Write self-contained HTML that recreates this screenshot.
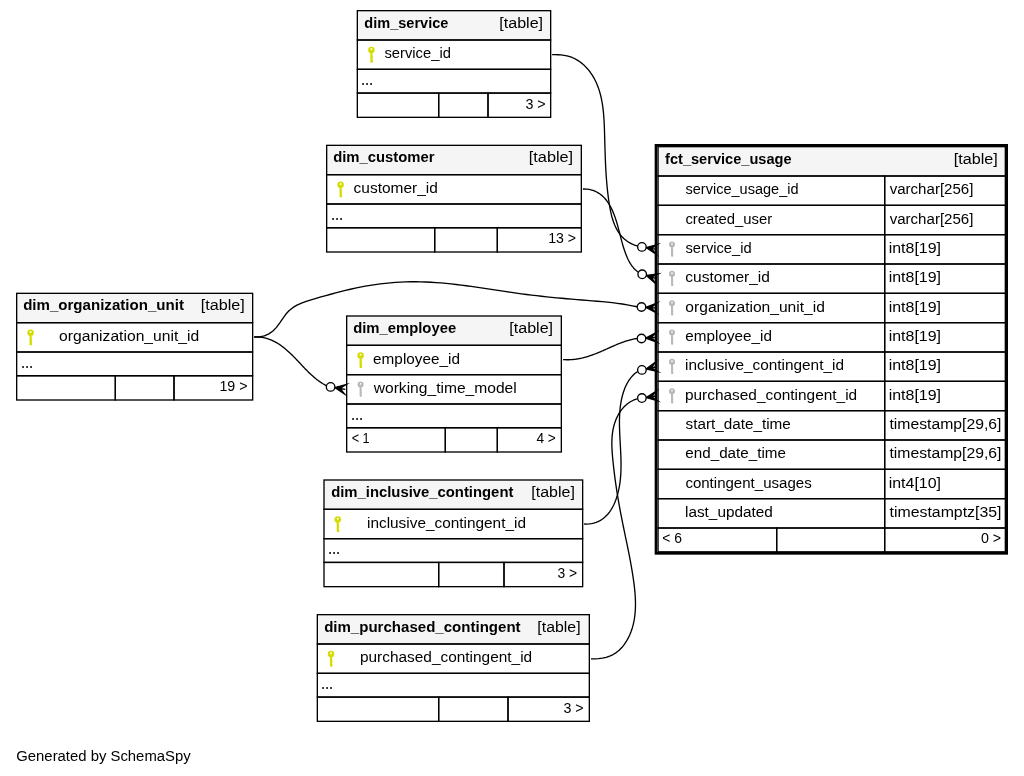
<!DOCTYPE html>
<html lang="en"><head><meta charset="utf-8"><title>fct_service_usage relationships</title>
<style>html,body{margin:0;padding:0;background:#fff;}svg{display:block;will-change:transform;}text{white-space:pre;}</style></head>
<body>
<svg width="1024" height="776" viewBox="0 0 1024 776" font-family='"Liberation Sans", sans-serif' fill="#000">
<rect x="0" y="0" width="1024" height="776" fill="#fff"/>
<rect x="356.670" y="10.000" width="194.660" height="108.000" fill="#fff"/>
<rect x="357.337" y="10.667" width="193.327" height="29.333" fill="#f5f5f5" stroke="#000" stroke-width="1.3333"/>
<rect x="357.337" y="40.000" width="193.327" height="29.333" fill="none" stroke="#000" stroke-width="1.3333"/>
<rect x="357.337" y="69.333" width="193.327" height="23.750" fill="none" stroke="#000" stroke-width="1.3333"/>
<rect x="357.337" y="93.083" width="81.333" height="24.250" fill="none" stroke="#000" stroke-width="1.3333"/>
<rect x="438.670" y="93.083" width="49.330" height="24.250" fill="none" stroke="#000" stroke-width="1.3333"/>
<rect x="488.000" y="93.083" width="62.663" height="24.250" fill="none" stroke="#000" stroke-width="1.3333"/>
<path fill="#d4dc00" fill-rule="evenodd" d="M368.15,50.10 a3.25,3.25 0 1,0 6.50,0 a3.25,3.25 0 1,0 -6.50,0 Z M370.45,49.30 a0.95,0.95 0 1,0 1.90,0 a0.95,0.95 0 1,0 -1.90,0 Z"/>
<path fill="#d4dc00" d="M370.32,52.55 L372.48,52.55 L372.48,55.50 l0.45,0.25 l0,0.9 l-0.45,0.25 l0,0.7 l0.45,0.25 l0,0.9 l-0.45,0.25 l0,1.0 l0.45,0.25 L372.93,62.30 L371.40,62.90 L370.32,62.00 Z"/>
<rect x="326.000" y="144.670" width="256.000" height="108.000" fill="#fff"/>
<rect x="326.667" y="145.337" width="254.667" height="29.333" fill="#f5f5f5" stroke="#000" stroke-width="1.3333"/>
<rect x="326.667" y="174.670" width="254.667" height="29.333" fill="none" stroke="#000" stroke-width="1.3333"/>
<rect x="326.667" y="204.003" width="254.667" height="23.750" fill="none" stroke="#000" stroke-width="1.3333"/>
<rect x="326.667" y="227.753" width="108.003" height="24.250" fill="none" stroke="#000" stroke-width="1.3333"/>
<rect x="434.670" y="227.753" width="62.660" height="24.250" fill="none" stroke="#000" stroke-width="1.3333"/>
<rect x="497.330" y="227.753" width="84.003" height="24.250" fill="none" stroke="#000" stroke-width="1.3333"/>
<path fill="#d4dc00" fill-rule="evenodd" d="M337.35,184.77 a3.25,3.25 0 1,0 6.50,0 a3.25,3.25 0 1,0 -6.50,0 Z M339.65,183.97 a0.95,0.95 0 1,0 1.90,0 a0.95,0.95 0 1,0 -1.90,0 Z"/>
<path fill="#d4dc00" d="M339.52,187.22 L341.68,187.22 L341.68,190.17 l0.45,0.25 l0,0.9 l-0.45,0.25 l0,0.7 l0.45,0.25 l0,0.9 l-0.45,0.25 l0,1.0 l0.45,0.25 L342.13,196.97 L340.60,197.57 L339.52,196.67 Z"/>
<rect x="16.000" y="292.670" width="237.330" height="108.000" fill="#fff"/>
<rect x="16.667" y="293.337" width="235.997" height="29.333" fill="#f5f5f5" stroke="#000" stroke-width="1.3333"/>
<rect x="16.667" y="322.670" width="235.997" height="29.333" fill="none" stroke="#000" stroke-width="1.3333"/>
<rect x="16.667" y="352.003" width="235.997" height="23.750" fill="none" stroke="#000" stroke-width="1.3333"/>
<rect x="16.667" y="375.753" width="98.663" height="24.250" fill="none" stroke="#000" stroke-width="1.3333"/>
<rect x="115.330" y="375.753" width="58.670" height="24.250" fill="none" stroke="#000" stroke-width="1.3333"/>
<rect x="174.000" y="375.753" width="78.663" height="24.250" fill="none" stroke="#000" stroke-width="1.3333"/>
<path fill="#d4dc00" fill-rule="evenodd" d="M27.35,332.77 a3.25,3.25 0 1,0 6.50,0 a3.25,3.25 0 1,0 -6.50,0 Z M29.65,331.97 a0.95,0.95 0 1,0 1.90,0 a0.95,0.95 0 1,0 -1.90,0 Z"/>
<path fill="#d4dc00" d="M29.52,335.22 L31.68,335.22 L31.68,338.17 l0.45,0.25 l0,0.9 l-0.45,0.25 l0,0.7 l0.45,0.25 l0,0.9 l-0.45,0.25 l0,1.0 l0.45,0.25 L32.13,344.97 L30.60,345.57 L29.52,344.67 Z"/>
<rect x="346.000" y="315.330" width="216.000" height="137.333" fill="#fff"/>
<rect x="346.667" y="315.997" width="214.667" height="29.333" fill="#f5f5f5" stroke="#000" stroke-width="1.3333"/>
<rect x="346.667" y="345.330" width="214.667" height="29.333" fill="none" stroke="#000" stroke-width="1.3333"/>
<rect x="346.667" y="374.663" width="214.667" height="29.333" fill="none" stroke="#000" stroke-width="1.3333"/>
<rect x="346.667" y="403.997" width="214.667" height="23.750" fill="none" stroke="#000" stroke-width="1.3333"/>
<rect x="346.667" y="427.747" width="98.663" height="24.250" fill="none" stroke="#000" stroke-width="1.3333"/>
<rect x="445.330" y="427.747" width="52.000" height="24.250" fill="none" stroke="#000" stroke-width="1.3333"/>
<rect x="497.330" y="427.747" width="64.003" height="24.250" fill="none" stroke="#000" stroke-width="1.3333"/>
<path fill="#d4dc00" fill-rule="evenodd" d="M357.35,355.43 a3.25,3.25 0 1,0 6.50,0 a3.25,3.25 0 1,0 -6.50,0 Z M359.65,354.63 a0.95,0.95 0 1,0 1.90,0 a0.95,0.95 0 1,0 -1.90,0 Z"/>
<path fill="#d4dc00" d="M359.52,357.88 L361.68,357.88 L361.68,360.83 l0.45,0.25 l0,0.9 l-0.45,0.25 l0,0.7 l0.45,0.25 l0,0.9 l-0.45,0.25 l0,1.0 l0.45,0.25 L362.13,367.63 L360.60,368.23 L359.52,367.33 Z"/>
<path fill="#b9b9b9" fill-rule="evenodd" d="M357.55,384.56 a3.05,3.05 0 1,0 6.10,0 a3.05,3.05 0 1,0 -6.10,0 Z M359.75,383.86 a0.85,0.85 0 1,0 1.70,0 a0.85,0.85 0 1,0 -1.70,0 Z"/>
<path fill="#b9b9b9" d="M359.62,386.81 L361.58,386.81 L361.58,389.96 l0.35,0.25 l0,0.9 l-0.35,0.25 l0,0.7 l0.35,0.25 l0,0.9 l-0.35,0.25 l0,1.0 l0.35,0.25 L361.93,396.36 L360.60,396.96 L359.62,396.06 Z"/>
<rect x="323.330" y="479.330" width="260.000" height="108.000" fill="#fff"/>
<rect x="323.997" y="479.997" width="258.667" height="29.333" fill="#f5f5f5" stroke="#000" stroke-width="1.3333"/>
<rect x="323.997" y="509.330" width="258.667" height="29.333" fill="none" stroke="#000" stroke-width="1.3333"/>
<rect x="323.997" y="538.663" width="258.667" height="23.750" fill="none" stroke="#000" stroke-width="1.3333"/>
<rect x="323.997" y="562.413" width="114.673" height="24.250" fill="none" stroke="#000" stroke-width="1.3333"/>
<rect x="438.670" y="562.413" width="65.330" height="24.250" fill="none" stroke="#000" stroke-width="1.3333"/>
<rect x="504.000" y="562.413" width="78.663" height="24.250" fill="none" stroke="#000" stroke-width="1.3333"/>
<path fill="#d4dc00" fill-rule="evenodd" d="M334.50,519.43 a3.25,3.25 0 1,0 6.50,0 a3.25,3.25 0 1,0 -6.50,0 Z M336.80,518.63 a0.95,0.95 0 1,0 1.90,0 a0.95,0.95 0 1,0 -1.90,0 Z"/>
<path fill="#d4dc00" d="M336.67,521.88 L338.83,521.88 L338.83,524.83 l0.45,0.25 l0,0.9 l-0.45,0.25 l0,0.7 l0.45,0.25 l0,0.9 l-0.45,0.25 l0,1.0 l0.45,0.25 L339.28,531.63 L337.75,532.23 L336.67,531.33 Z"/>
<rect x="316.670" y="614.000" width="273.330" height="108.000" fill="#fff"/>
<rect x="317.337" y="614.667" width="271.997" height="29.333" fill="#f5f5f5" stroke="#000" stroke-width="1.3333"/>
<rect x="317.337" y="644.000" width="271.997" height="29.333" fill="none" stroke="#000" stroke-width="1.3333"/>
<rect x="317.337" y="673.333" width="271.997" height="23.750" fill="none" stroke="#000" stroke-width="1.3333"/>
<rect x="317.337" y="697.083" width="121.333" height="24.250" fill="none" stroke="#000" stroke-width="1.3333"/>
<rect x="438.670" y="697.083" width="69.330" height="24.250" fill="none" stroke="#000" stroke-width="1.3333"/>
<rect x="508.000" y="697.083" width="81.333" height="24.250" fill="none" stroke="#000" stroke-width="1.3333"/>
<path fill="#d4dc00" fill-rule="evenodd" d="M327.75,654.10 a3.25,3.25 0 1,0 6.50,0 a3.25,3.25 0 1,0 -6.50,0 Z M330.05,653.30 a0.95,0.95 0 1,0 1.90,0 a0.95,0.95 0 1,0 -1.90,0 Z"/>
<path fill="#d4dc00" d="M329.92,656.55 L332.08,656.55 L332.08,659.50 l0.45,0.25 l0,0.9 l-0.45,0.25 l0,0.7 l0.45,0.25 l0,0.9 l-0.45,0.25 l0,1.0 l0.45,0.25 L332.53,666.30 L331.00,666.90 L329.92,666.00 Z"/>
<rect x="654.670" y="144.000" width="353.330" height="410.670" fill="#fff"/>
<rect x="658.070" y="146.670" width="347.260" height="29.330" fill="#f5f5f5" stroke="#000" stroke-width="1.3333"/>
<rect x="658.070" y="176.000" width="226.600" height="29.333" fill="none" stroke="#000" stroke-width="1.3333"/>
<rect x="884.670" y="176.000" width="120.660" height="29.333" fill="none" stroke="#000" stroke-width="1.3333"/>
<rect x="658.070" y="205.333" width="226.600" height="29.333" fill="none" stroke="#000" stroke-width="1.3333"/>
<rect x="884.670" y="205.333" width="120.660" height="29.333" fill="none" stroke="#000" stroke-width="1.3333"/>
<rect x="658.070" y="234.667" width="226.600" height="29.333" fill="none" stroke="#000" stroke-width="1.3333"/>
<rect x="884.670" y="234.667" width="120.660" height="29.333" fill="none" stroke="#000" stroke-width="1.3333"/>
<rect x="658.070" y="264.000" width="226.600" height="29.333" fill="none" stroke="#000" stroke-width="1.3333"/>
<rect x="884.670" y="264.000" width="120.660" height="29.333" fill="none" stroke="#000" stroke-width="1.3333"/>
<rect x="658.070" y="293.333" width="226.600" height="29.333" fill="none" stroke="#000" stroke-width="1.3333"/>
<rect x="884.670" y="293.333" width="120.660" height="29.333" fill="none" stroke="#000" stroke-width="1.3333"/>
<rect x="658.070" y="322.667" width="226.600" height="29.333" fill="none" stroke="#000" stroke-width="1.3333"/>
<rect x="884.670" y="322.667" width="120.660" height="29.333" fill="none" stroke="#000" stroke-width="1.3333"/>
<rect x="658.070" y="352.000" width="226.600" height="29.333" fill="none" stroke="#000" stroke-width="1.3333"/>
<rect x="884.670" y="352.000" width="120.660" height="29.333" fill="none" stroke="#000" stroke-width="1.3333"/>
<rect x="658.070" y="381.333" width="226.600" height="29.333" fill="none" stroke="#000" stroke-width="1.3333"/>
<rect x="884.670" y="381.333" width="120.660" height="29.333" fill="none" stroke="#000" stroke-width="1.3333"/>
<rect x="658.070" y="410.667" width="226.600" height="29.333" fill="none" stroke="#000" stroke-width="1.3333"/>
<rect x="884.670" y="410.667" width="120.660" height="29.333" fill="none" stroke="#000" stroke-width="1.3333"/>
<rect x="658.070" y="440.000" width="226.600" height="29.333" fill="none" stroke="#000" stroke-width="1.3333"/>
<rect x="884.670" y="440.000" width="120.660" height="29.333" fill="none" stroke="#000" stroke-width="1.3333"/>
<rect x="658.070" y="469.333" width="226.600" height="29.333" fill="none" stroke="#000" stroke-width="1.3333"/>
<rect x="884.670" y="469.333" width="120.660" height="29.333" fill="none" stroke="#000" stroke-width="1.3333"/>
<rect x="658.070" y="498.667" width="226.600" height="29.333" fill="none" stroke="#000" stroke-width="1.3333"/>
<rect x="884.670" y="498.667" width="120.660" height="29.333" fill="none" stroke="#000" stroke-width="1.3333"/>
<rect x="658.070" y="528.000" width="118.600" height="23.800" fill="none" stroke="#000" stroke-width="1.3333"/>
<rect x="776.670" y="528.000" width="108.000" height="23.800" fill="none" stroke="#000" stroke-width="1.3333"/>
<rect x="884.670" y="528.000" width="120.660" height="23.800" fill="none" stroke="#000" stroke-width="1.3333"/>
<rect x="656.003" y="145.333" width="350.663" height="408.003" fill="none" stroke="#000" stroke-width="2.6666"/>
<path fill="#b9b9b9" fill-rule="evenodd" d="M668.95,244.57 a3.05,3.05 0 1,0 6.10,0 a3.05,3.05 0 1,0 -6.10,0 Z M671.15,243.87 a0.85,0.85 0 1,0 1.70,0 a0.85,0.85 0 1,0 -1.70,0 Z"/>
<path fill="#b9b9b9" d="M671.02,246.82 L672.98,246.82 L672.98,249.97 l0.35,0.25 l0,0.9 l-0.35,0.25 l0,0.7 l0.35,0.25 l0,0.9 l-0.35,0.25 l0,1.0 l0.35,0.25 L673.33,256.37 L672.00,256.97 L671.02,256.07 Z"/>
<path fill="#b9b9b9" fill-rule="evenodd" d="M668.95,273.90 a3.05,3.05 0 1,0 6.10,0 a3.05,3.05 0 1,0 -6.10,0 Z M671.15,273.20 a0.85,0.85 0 1,0 1.70,0 a0.85,0.85 0 1,0 -1.70,0 Z"/>
<path fill="#b9b9b9" d="M671.02,276.15 L672.98,276.15 L672.98,279.30 l0.35,0.25 l0,0.9 l-0.35,0.25 l0,0.7 l0.35,0.25 l0,0.9 l-0.35,0.25 l0,1.0 l0.35,0.25 L673.33,285.70 L672.00,286.30 L671.02,285.40 Z"/>
<path fill="#b9b9b9" fill-rule="evenodd" d="M668.95,303.23 a3.05,3.05 0 1,0 6.10,0 a3.05,3.05 0 1,0 -6.10,0 Z M671.15,302.53 a0.85,0.85 0 1,0 1.70,0 a0.85,0.85 0 1,0 -1.70,0 Z"/>
<path fill="#b9b9b9" d="M671.02,305.48 L672.98,305.48 L672.98,308.63 l0.35,0.25 l0,0.9 l-0.35,0.25 l0,0.7 l0.35,0.25 l0,0.9 l-0.35,0.25 l0,1.0 l0.35,0.25 L673.33,315.03 L672.00,315.63 L671.02,314.73 Z"/>
<path fill="#b9b9b9" fill-rule="evenodd" d="M668.95,332.57 a3.05,3.05 0 1,0 6.10,0 a3.05,3.05 0 1,0 -6.10,0 Z M671.15,331.87 a0.85,0.85 0 1,0 1.70,0 a0.85,0.85 0 1,0 -1.70,0 Z"/>
<path fill="#b9b9b9" d="M671.02,334.82 L672.98,334.82 L672.98,337.97 l0.35,0.25 l0,0.9 l-0.35,0.25 l0,0.7 l0.35,0.25 l0,0.9 l-0.35,0.25 l0,1.0 l0.35,0.25 L673.33,344.37 L672.00,344.97 L671.02,344.07 Z"/>
<path fill="#b9b9b9" fill-rule="evenodd" d="M668.95,361.90 a3.05,3.05 0 1,0 6.10,0 a3.05,3.05 0 1,0 -6.10,0 Z M671.15,361.20 a0.85,0.85 0 1,0 1.70,0 a0.85,0.85 0 1,0 -1.70,0 Z"/>
<path fill="#b9b9b9" d="M671.02,364.15 L672.98,364.15 L672.98,367.30 l0.35,0.25 l0,0.9 l-0.35,0.25 l0,0.7 l0.35,0.25 l0,0.9 l-0.35,0.25 l0,1.0 l0.35,0.25 L673.33,373.70 L672.00,374.30 L671.02,373.40 Z"/>
<path fill="#b9b9b9" fill-rule="evenodd" d="M668.95,391.23 a3.05,3.05 0 1,0 6.10,0 a3.05,3.05 0 1,0 -6.10,0 Z M671.15,390.53 a0.85,0.85 0 1,0 1.70,0 a0.85,0.85 0 1,0 -1.70,0 Z"/>
<path fill="#b9b9b9" d="M671.02,393.48 L672.98,393.48 L672.98,396.63 l0.35,0.25 l0,0.9 l-0.35,0.25 l0,0.7 l0.35,0.25 l0,0.9 l-0.35,0.25 l0,1.0 l0.35,0.25 L673.33,403.03 L672.00,403.63 L671.02,402.73 Z"/>
<path d="M552.10,54.70 L554.99,54.70 L557.99,54.73 L561.00,54.94 L563.99,55.33 L566.93,55.92 L569.80,56.72 L572.58,57.73 L575.25,58.97 L577.80,60.42 L580.23,62.06 L582.53,63.87 L584.70,65.85 L586.75,67.96 L588.67,70.19 L590.45,72.52 L592.10,74.94 L593.61,77.42 L594.99,79.96 L596.24,82.56 L597.37,85.21 L598.39,87.91 L599.31,90.65 L600.12,93.44 L600.84,96.26 L601.48,99.12 L602.03,102.01 L602.51,104.92 L602.92,107.86 L603.27,110.82 L603.56,113.79 L603.80,116.78 L604.01,119.77 L604.17,122.77 L604.31,125.77 L604.42,128.77 L604.52,131.77 L604.60,134.76 L604.68,137.73 L604.76,140.69 L604.84,143.64 L604.93,146.58 L605.01,149.51 L605.10,152.43 L605.20,155.34 L605.30,158.25 L605.42,161.16 L605.54,164.06 L605.68,166.96 L605.84,169.86 L606.01,172.76 L606.20,175.66 L606.41,178.56 L606.64,181.47 L606.89,184.38 L607.16,187.30 L607.47,190.22 L607.80,193.16 L608.16,196.10 L608.55,199.05 L608.97,202.02 L609.43,204.99 L609.94,207.96 L610.51,210.92 L611.16,213.85 L611.89,216.74 L612.71,219.58 L613.65,222.35 L614.71,225.05 L615.91,227.66 L617.24,230.17 L618.74,232.57 L620.41,234.85 L622.26,236.98 L624.30,238.97 L626.55,240.80 L629.02,242.46 L631.72,243.93 L634.67,245.20 L637.60,246.20" fill="none" stroke="#000" stroke-width="1.3333" stroke-linejoin="round"/>
<path d="M582.90,189.00 L584.39,188.95 L585.94,189.05 L587.44,189.21 L588.89,189.43 L590.30,189.72 L591.66,190.06 L592.97,190.47 L594.24,190.93 L595.46,191.45 L596.65,192.02 L597.79,192.64 L598.89,193.31 L599.95,194.03 L600.98,194.80 L601.97,195.61 L602.92,196.46 L603.83,197.36 L604.71,198.29 L605.56,199.26 L606.38,200.27 L607.16,201.30 L607.92,202.38 L608.64,203.48 L609.34,204.61 L610.01,205.76 L610.66,206.94 L611.27,208.15 L611.87,209.37 L612.44,210.61 L612.99,211.88 L613.52,213.15 L614.03,214.44 L614.52,215.75 L614.99,217.06 L615.44,218.38 L615.88,219.71 L616.31,221.05 L616.72,222.38 L617.11,223.72 L617.50,225.06 L617.87,226.40 L618.23,227.73 L618.59,229.06 L618.94,230.38 L619.28,231.71 L619.62,233.02 L619.95,234.34 L620.28,235.65 L620.62,236.95 L620.95,238.26 L621.29,239.55 L621.63,240.85 L621.98,242.14 L622.34,243.43 L622.70,244.71 L623.07,245.99 L623.46,247.27 L623.86,248.54 L624.27,249.81 L624.70,251.07 L625.14,252.33 L625.61,253.59 L626.09,254.84 L626.60,256.09 L627.12,257.33 L627.68,258.56 L628.26,259.78 L628.88,260.98 L629.53,262.17 L630.22,263.33 L630.94,264.47 L631.71,265.58 L632.52,266.66 L633.37,267.70 L634.28,268.71 L635.24,269.68 L636.25,270.61 L637.32,271.49 L638.50,272.20" fill="none" stroke="#000" stroke-width="1.3333" stroke-linejoin="round"/>
<path d="M254.20,337.00 L259.41,336.96 L264.34,335.89 L268.86,333.89 L272.93,331.03 L276.49,327.40 L279.61,323.20 L282.55,318.79 L285.58,314.53 L288.95,310.78 L292.77,307.68 L296.98,305.15 L301.49,303.06 L306.22,301.31 L311.09,299.78 L316.02,298.37 L320.94,296.97 L325.85,295.60 L330.75,294.25 L335.65,292.93 L340.55,291.66 L345.46,290.43 L350.37,289.27 L355.30,288.16 L360.25,287.14 L365.22,286.19 L370.21,285.33 L375.22,284.57 L380.26,283.89 L385.31,283.31 L390.37,282.81 L395.44,282.41 L400.51,282.11 L405.59,281.89 L410.67,281.78 L415.75,281.76 L420.82,281.83 L425.88,281.99 L430.94,282.24 L435.99,282.56 L441.03,282.96 L446.07,283.41 L451.11,283.93 L456.15,284.50 L461.18,285.12 L466.21,285.77 L471.23,286.46 L476.25,287.18 L481.28,287.91 L486.30,288.67 L491.32,289.43 L496.34,290.19 L501.36,290.95 L506.38,291.71 L511.40,292.44 L516.43,293.16 L521.45,293.84 L526.48,294.50 L531.51,295.12 L536.55,295.71 L541.58,296.27 L546.62,296.80 L551.66,297.31 L556.71,297.80 L561.75,298.27 L566.80,298.72 L571.85,299.16 L576.90,299.59 L581.95,300.00 L587.01,300.42 L592.06,300.82 L597.12,301.24 L602.18,301.67 L607.23,302.15 L612.27,302.68 L617.30,303.30 L622.33,304.00 L627.33,304.82 L632.32,305.78 L637.30,306.75" fill="none" stroke="#000" stroke-width="1.3333" stroke-linejoin="round"/>
<path d="M563.10,359.75 L564.02,359.61 L565.04,359.68 L566.06,359.72 L567.07,359.74 L568.08,359.75 L569.09,359.73 L570.09,359.70 L571.09,359.65 L572.08,359.59 L573.07,359.51 L574.05,359.41 L575.03,359.30 L576.01,359.17 L576.98,359.02 L577.95,358.87 L578.91,358.69 L579.87,358.51 L580.83,358.31 L581.79,358.10 L582.74,357.87 L583.69,357.63 L584.63,357.39 L585.57,357.13 L586.51,356.86 L587.45,356.57 L588.39,356.28 L589.32,355.98 L590.25,355.67 L591.17,355.36 L592.10,355.03 L593.02,354.69 L593.94,354.35 L594.86,354.00 L595.78,353.65 L596.69,353.28 L597.61,352.92 L598.52,352.54 L599.43,352.16 L600.34,351.78 L601.25,351.39 L602.15,351.00 L603.06,350.60 L603.96,350.21 L604.87,349.80 L605.77,349.40 L606.67,349.00 L607.58,348.59 L608.48,348.19 L609.38,347.78 L610.28,347.38 L611.19,346.98 L612.09,346.58 L612.99,346.18 L613.90,345.78 L614.80,345.39 L615.71,345.00 L616.62,344.62 L617.53,344.24 L618.44,343.87 L619.35,343.50 L620.27,343.14 L621.19,342.79 L622.11,342.44 L623.03,342.11 L623.95,341.78 L624.88,341.46 L625.81,341.15 L626.74,340.85 L627.68,340.56 L628.62,340.29 L629.57,340.02 L630.51,339.77 L631.46,339.54 L632.42,339.31 L633.38,339.10 L634.34,338.91 L635.31,338.73 L636.28,338.56 L637.30,338.50" fill="none" stroke="#000" stroke-width="1.3333" stroke-linejoin="round"/>
<path d="M584.10,524.00 L586.57,524.11 L589.11,523.95 L591.53,523.61 L593.83,523.10 L596.00,522.42 L598.06,521.59 L600.01,520.60 L601.85,519.48 L603.58,518.22 L605.20,516.84 L606.73,515.35 L608.15,513.75 L609.49,512.05 L610.73,510.26 L611.88,508.40 L612.94,506.46 L613.93,504.46 L614.83,502.41 L615.66,500.31 L616.42,498.18 L617.10,496.01 L617.72,493.83 L618.28,491.64 L618.78,489.44 L619.21,487.24 L619.60,485.03 L619.93,482.82 L620.21,480.61 L620.45,478.39 L620.64,476.17 L620.79,473.94 L620.90,471.71 L620.98,469.48 L621.02,467.25 L621.04,465.01 L621.03,462.76 L620.99,460.52 L620.93,458.27 L620.86,456.02 L620.77,453.76 L620.66,451.50 L620.55,449.24 L620.43,446.97 L620.30,444.70 L620.18,442.43 L620.05,440.15 L619.93,437.87 L619.82,435.59 L619.71,433.31 L619.62,431.03 L619.55,428.75 L619.49,426.47 L619.46,424.19 L619.45,421.92 L619.47,419.65 L619.53,417.39 L619.61,415.14 L619.74,412.90 L619.90,410.66 L620.12,408.44 L620.37,406.23 L620.68,404.03 L621.04,401.85 L621.46,399.68 L621.93,397.53 L622.47,395.40 L623.08,393.28 L623.75,391.19 L624.50,389.12 L625.33,387.09 L626.26,385.09 L627.27,383.14 L628.39,381.24 L629.62,379.40 L630.96,377.62 L632.42,375.91 L634.02,374.27 L635.74,372.72 L637.80,371.60" fill="none" stroke="#000" stroke-width="1.3333" stroke-linejoin="round"/>
<path d="M591.00,658.85 L594.74,658.84 L598.57,658.65 L602.37,658.15 L606.10,657.31 L609.70,656.12 L613.10,654.55 L616.27,652.60 L619.16,650.26 L621.80,647.59 L624.17,644.65 L626.30,641.49 L628.17,638.17 L629.81,634.73 L631.20,631.22 L632.38,627.67 L633.35,624.07 L634.11,620.42 L634.70,616.75 L635.11,613.04 L635.37,609.30 L635.48,605.54 L635.46,601.77 L635.33,597.99 L635.09,594.19 L634.76,590.40 L634.36,586.60 L633.89,582.82 L633.37,579.04 L632.81,575.29 L632.21,571.54 L631.58,567.81 L630.92,564.09 L630.24,560.38 L629.53,556.68 L628.81,552.99 L628.07,549.30 L627.32,545.62 L626.56,541.95 L625.79,538.27 L625.02,534.60 L624.26,530.93 L623.50,527.26 L622.74,523.59 L622.00,519.91 L621.28,516.23 L620.57,512.55 L619.88,508.86 L619.21,505.16 L618.56,501.46 L617.93,497.75 L617.32,494.04 L616.73,490.32 L616.17,486.59 L615.62,482.85 L615.10,479.11 L614.61,475.35 L614.14,471.59 L613.69,467.82 L613.27,464.05 L612.88,460.26 L612.52,456.46 L612.22,452.66 L611.99,448.87 L611.87,445.08 L611.88,441.31 L612.04,437.57 L612.38,433.85 L612.93,430.17 L613.70,426.53 L614.72,422.93 L616.02,419.40 L617.60,415.96 L619.48,412.68 L621.64,409.59 L624.11,406.75 L626.88,404.21 L629.96,402.02 L633.36,400.22 L637.00,398.85" fill="none" stroke="#000" stroke-width="1.3333" stroke-linejoin="round"/>
<path d="M254.20,337.00 L255.22,336.89 L256.45,336.89 L257.66,336.94 L258.86,337.02 L260.04,337.13 L261.20,337.27 L262.35,337.45 L263.48,337.66 L264.60,337.90 L265.70,338.17 L266.78,338.47 L267.85,338.79 L268.91,339.15 L269.96,339.53 L270.99,339.94 L272.01,340.37 L273.01,340.83 L274.00,341.31 L274.99,341.82 L275.96,342.35 L276.91,342.90 L277.86,343.47 L278.80,344.06 L279.72,344.67 L280.64,345.29 L281.55,345.94 L282.44,346.60 L283.33,347.28 L284.21,347.98 L285.08,348.68 L285.95,349.41 L286.80,350.14 L287.65,350.89 L288.49,351.65 L289.33,352.42 L290.16,353.20 L290.98,353.99 L291.80,354.79 L292.61,355.59 L293.42,356.40 L294.23,357.22 L295.03,358.05 L295.83,358.88 L296.62,359.71 L297.42,360.54 L298.21,361.38 L299.00,362.22 L299.79,363.07 L300.58,363.91 L301.37,364.75 L302.16,365.59 L302.95,366.43 L303.74,367.26 L304.54,368.09 L305.33,368.92 L306.13,369.74 L306.94,370.56 L307.75,371.37 L308.56,372.18 L309.37,372.97 L310.20,373.76 L311.02,374.54 L311.86,375.30 L312.70,376.06 L313.54,376.80 L314.40,377.54 L315.26,378.26 L316.13,378.96 L317.01,379.65 L317.90,380.33 L318.80,380.99 L319.71,381.63 L320.63,382.25 L321.56,382.86 L322.50,383.45 L323.46,384.02 L324.42,384.56 L325.40,385.09 L326.50,385.60" fill="none" stroke="#000" stroke-width="1.3333" stroke-linejoin="round"/>
<polygon points="646.11,247.59 657.41,244.57 651.37,248.45 656.64,249.31 651.37,248.45 655.87,254.04 646.11,247.59" fill="#000" stroke="#000" stroke-width="1.3333" stroke-linejoin="miter" stroke-miterlimit="10"/>
<circle cx="641.90" cy="246.90" r="4.267" fill="#fff" stroke="#000" stroke-width="1.3333"/>
<polygon points="646.29,275.52 657.88,273.98 651.40,277.05 656.51,278.58 651.40,277.05 655.13,283.18 646.29,275.52" fill="#000" stroke="#000" stroke-width="1.3333" stroke-linejoin="miter" stroke-miterlimit="10"/>
<circle cx="642.20" cy="274.30" r="4.267" fill="#fff" stroke="#000" stroke-width="1.3333"/>
<polygon points="645.76,307.28 656.72,303.18 651.08,307.63 656.40,307.97 651.08,307.63 656.09,312.76 645.76,307.28" fill="#000" stroke="#000" stroke-width="1.3333" stroke-linejoin="miter" stroke-miterlimit="10"/>
<circle cx="641.50" cy="307.00" r="4.267" fill="#fff" stroke="#000" stroke-width="1.3333"/>
<polygon points="645.75,338.18 656.03,332.58 651.07,337.77 656.39,337.36 651.07,337.77 656.76,342.15 645.75,338.18" fill="#000" stroke="#000" stroke-width="1.3333" stroke-linejoin="miter" stroke-miterlimit="10"/>
<circle cx="641.50" cy="338.50" r="4.267" fill="#fff" stroke="#000" stroke-width="1.3333"/>
<polygon points="646.07,369.00 655.48,362.04 651.28,367.86 656.49,366.73 651.28,367.86 657.51,371.42 646.07,369.00" fill="#000" stroke="#000" stroke-width="1.3333" stroke-linejoin="miter" stroke-miterlimit="10"/>
<circle cx="641.90" cy="369.90" r="4.267" fill="#fff" stroke="#000" stroke-width="1.3333"/>
<polygon points="646.13,397.47 656.04,391.26 651.41,396.74 656.69,396.01 651.41,396.74 657.35,400.77 646.13,397.47" fill="#000" stroke="#000" stroke-width="1.3333" stroke-linejoin="miter" stroke-miterlimit="10"/>
<circle cx="641.90" cy="398.05" r="4.267" fill="#fff" stroke="#000" stroke-width="1.3333"/>
<polygon points="334.81,387.60 346.12,384.60 340.07,388.47 345.33,389.34 340.07,388.47 344.55,394.07 334.81,387.60" fill="#000" stroke="#000" stroke-width="1.3333" stroke-linejoin="miter" stroke-miterlimit="10"/>
<circle cx="330.60" cy="386.90" r="4.267" fill="#fff" stroke="#000" stroke-width="1.3333"/>
<g style="filter:grayscale(1)">
<text x="364.30" y="28.00" font-weight="bold" font-size="15.2" textLength="84.04" lengthAdjust="spacingAndGlyphs">dim_service</text>
<text x="499.31" y="28.10" font-size="15.2" textLength="43.78" lengthAdjust="spacingAndGlyphs">[table]</text>
<text x="384.41" y="58.00" font-size="15.2" textLength="66.46" lengthAdjust="spacingAndGlyphs">service_id</text>
<text x="360.38" y="85.00" font-size="18.5" fill="#2b2b2b" textLength="13.14" lengthAdjust="spacing">...</text>
<text x="525.41" y="109.00" font-size="15.2" textLength="20.24" lengthAdjust="spacingAndGlyphs">3 &gt;</text>
<text x="333.14" y="162.00" font-weight="bold" font-size="15.2" textLength="101.46" lengthAdjust="spacingAndGlyphs">dim_customer</text>
<text x="528.80" y="162.10" font-size="15.2" textLength="44.31" lengthAdjust="spacingAndGlyphs">[table]</text>
<text x="353.61" y="193.00" font-size="15.2" textLength="84.29" lengthAdjust="spacingAndGlyphs">customer_id</text>
<text x="330.38" y="220.00" font-size="18.5" fill="#2b2b2b" textLength="13.14" lengthAdjust="spacing">...</text>
<text x="548.20" y="243.00" font-size="15.2" textLength="27.88" lengthAdjust="spacingAndGlyphs">13 &gt;</text>
<text x="23.13" y="310.00" font-weight="bold" font-size="15.2" textLength="160.78" lengthAdjust="spacingAndGlyphs">dim_organization_unit</text>
<text x="200.80" y="310.10" font-size="15.2" textLength="44.05" lengthAdjust="spacingAndGlyphs">[table]</text>
<text x="59.11" y="341.00" font-size="15.2" textLength="140.03" lengthAdjust="spacingAndGlyphs">organization_unit_id</text>
<text x="20.38" y="368.00" font-size="18.5" fill="#2b2b2b" textLength="13.14" lengthAdjust="spacing">...</text>
<text x="219.44" y="391.00" font-size="15.2" textLength="28.15" lengthAdjust="spacingAndGlyphs">19 &gt;</text>
<text x="353.14" y="333.00" font-weight="bold" font-size="15.2" textLength="103.01" lengthAdjust="spacingAndGlyphs">dim_employee</text>
<text x="509.31" y="333.10" font-size="15.2" textLength="43.78" lengthAdjust="spacingAndGlyphs">[table]</text>
<text x="373.12" y="364.00" font-size="15.2" textLength="86.79" lengthAdjust="spacingAndGlyphs">employee_id</text>
<text x="373.75" y="393.00" font-size="15.2" textLength="142.97" lengthAdjust="spacingAndGlyphs">working_time_model</text>
<text x="350.38" y="420.00" font-size="18.5" fill="#2b2b2b" textLength="13.14" lengthAdjust="spacing">...</text>
<text x="351.63" y="443.00" font-size="15.2" textLength="17.94" lengthAdjust="spacingAndGlyphs">&lt; 1</text>
<text x="536.41" y="443.00" font-size="15.2" textLength="19.46" lengthAdjust="spacingAndGlyphs">4 &gt;</text>
<text x="331.14" y="497.00" font-weight="bold" font-size="15.2" textLength="182.27" lengthAdjust="spacingAndGlyphs">dim_inclusive_contingent</text>
<text x="531.32" y="497.10" font-size="15.2" textLength="43.52" lengthAdjust="spacingAndGlyphs">[table]</text>
<text x="366.99" y="528.00" font-size="15.2" textLength="158.97" lengthAdjust="spacingAndGlyphs">inclusive_contingent_id</text>
<text x="327.38" y="554.00" font-size="18.5" fill="#2b2b2b" textLength="13.14" lengthAdjust="spacing">...</text>
<text x="557.43" y="578.00" font-size="15.2" textLength="19.70" lengthAdjust="spacingAndGlyphs">3 &gt;</text>
<text x="324.13" y="632.00" font-weight="bold" font-size="15.2" textLength="196.47" lengthAdjust="spacingAndGlyphs">dim_purchased_contingent</text>
<text x="537.32" y="632.10" font-size="15.2" textLength="43.25" lengthAdjust="spacingAndGlyphs">[table]</text>
<text x="359.99" y="662.00" font-size="15.2" textLength="172.16" lengthAdjust="spacingAndGlyphs">purchased_contingent_id</text>
<text x="320.38" y="689.00" font-size="18.5" fill="#2b2b2b" textLength="13.14" lengthAdjust="spacing">...</text>
<text x="563.41" y="713.00" font-size="15.2" textLength="20.24" lengthAdjust="spacingAndGlyphs">3 &gt;</text>
<text x="665.06" y="164.00" font-weight="bold" font-size="15.2" textLength="126.56" lengthAdjust="spacingAndGlyphs">fct_service_usage</text>
<text x="953.80" y="164.10" font-size="15.2" textLength="44.05" lengthAdjust="spacingAndGlyphs">[table]</text>
<text x="685.52" y="194.00" font-size="15.2" textLength="113.04" lengthAdjust="spacingAndGlyphs">service_usage_id</text>
<text x="889.63" y="194.00" font-size="15.2" textLength="83.81" lengthAdjust="spacingAndGlyphs">varchar[256]</text>
<text x="685.39" y="224.00" font-size="15.2" textLength="86.79" lengthAdjust="spacingAndGlyphs">created_user</text>
<text x="889.63" y="224.00" font-size="15.2" textLength="83.81" lengthAdjust="spacingAndGlyphs">varchar[256]</text>
<text x="685.52" y="253.00" font-size="15.2" textLength="66.10" lengthAdjust="spacingAndGlyphs">service_id</text>
<text x="888.70" y="253.00" font-size="15.2" textLength="52.33" lengthAdjust="spacingAndGlyphs">int8[19]</text>
<text x="685.36" y="282.00" font-size="15.2" textLength="84.54" lengthAdjust="spacingAndGlyphs">customer_id</text>
<text x="888.70" y="282.00" font-size="15.2" textLength="52.33" lengthAdjust="spacingAndGlyphs">int8[19]</text>
<text x="685.36" y="312.00" font-size="15.2" textLength="139.52" lengthAdjust="spacingAndGlyphs">organization_unit_id</text>
<text x="888.70" y="312.00" font-size="15.2" textLength="52.33" lengthAdjust="spacingAndGlyphs">int8[19]</text>
<text x="685.37" y="341.00" font-size="15.2" textLength="86.53" lengthAdjust="spacingAndGlyphs">employee_id</text>
<text x="888.70" y="341.00" font-size="15.2" textLength="52.33" lengthAdjust="spacingAndGlyphs">int8[19]</text>
<text x="684.99" y="370.00" font-size="15.2" textLength="158.97" lengthAdjust="spacingAndGlyphs">inclusive_contingent_id</text>
<text x="888.70" y="370.00" font-size="15.2" textLength="52.33" lengthAdjust="spacingAndGlyphs">int8[19]</text>
<text x="684.99" y="400.00" font-size="15.2" textLength="172.16" lengthAdjust="spacingAndGlyphs">purchased_contingent_id</text>
<text x="888.70" y="400.00" font-size="15.2" textLength="52.33" lengthAdjust="spacingAndGlyphs">int8[19]</text>
<text x="685.50" y="429.00" font-size="15.2" textLength="105.34" lengthAdjust="spacingAndGlyphs">start_date_time</text>
<text x="889.49" y="429.00" font-size="15.2" textLength="112.01" lengthAdjust="spacingAndGlyphs">timestamp[29,6]</text>
<text x="685.37" y="458.00" font-size="15.2" textLength="100.51" lengthAdjust="spacingAndGlyphs">end_date_time</text>
<text x="889.49" y="458.00" font-size="15.2" textLength="112.01" lengthAdjust="spacingAndGlyphs">timestamp[29,6]</text>
<text x="685.38" y="488.00" font-size="15.2" textLength="126.28" lengthAdjust="spacingAndGlyphs">contingent_usages</text>
<text x="888.70" y="488.00" font-size="15.2" textLength="52.33" lengthAdjust="spacingAndGlyphs">int4[10]</text>
<text x="684.99" y="517.00" font-size="15.2" textLength="87.91" lengthAdjust="spacingAndGlyphs">last_updated</text>
<text x="889.49" y="517.00" font-size="15.2" textLength="112.04" lengthAdjust="spacingAndGlyphs">timestamptz[35]</text>
<text x="662.31" y="543.00" font-size="15.2" textLength="19.70" lengthAdjust="spacingAndGlyphs">&lt; 6</text>
<text x="980.91" y="543.00" font-size="15.2" textLength="20.24" lengthAdjust="spacingAndGlyphs">0 &gt;</text>
<text x="16.27" y="761.00" font-size="15.2" textLength="174.40" lengthAdjust="spacingAndGlyphs">Generated by SchemaSpy</text>
</g>
</svg>
</body></html>
